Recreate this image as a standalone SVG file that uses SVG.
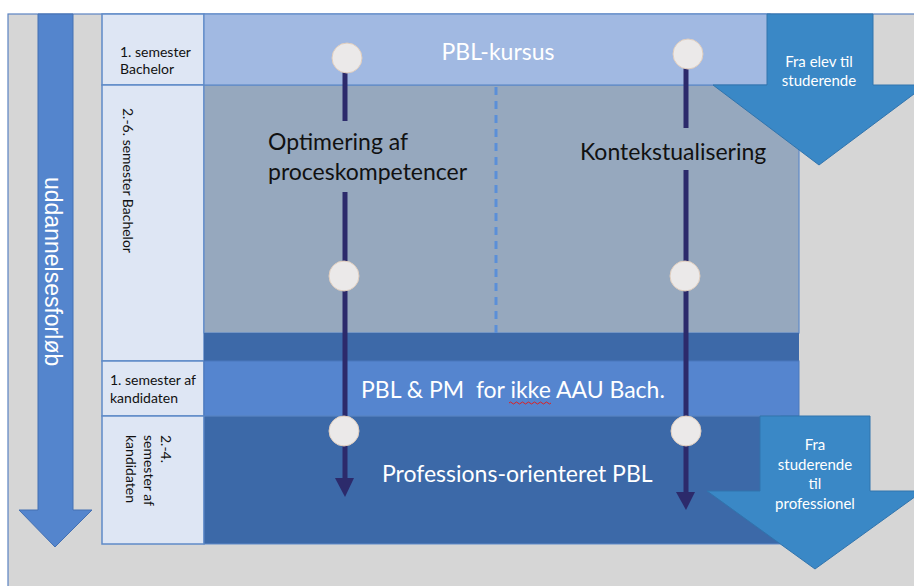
<svg xmlns="http://www.w3.org/2000/svg" width="914" height="586" viewBox="0 0 914 586">
<defs>
<style>
.lbl{font-family:Lato,"Open Sans","Liberation Sans",sans-serif;font-size:14px;fill:#111}
.big{font-family:Lato,"Open Sans","Liberation Sans",sans-serif;font-size:23px}
.wht{fill:#ffffff}
.blk{fill:#111111}
.arrtxt{font-family:Lato,"Open Sans","Liberation Sans",sans-serif;font-size:15px;fill:#ffffff;text-anchor:middle}
.col{fill:#dee6f4;stroke:#5f8ac8;stroke-width:1.5}
.line{stroke:#2c2a6b;stroke-width:5;fill:none}
.dot{fill:#ebe9e9;stroke:#e0cdbd;stroke-width:1}
.head{fill:#2c2a6b}
.bigarrow{fill:#3a88c6;stroke:#3174ad;stroke-width:1}
</style>
</defs>
<rect x="0" y="0" width="914" height="586" fill="#ffffff"/>
<rect id="frame" x="8" y="14" width="910" height="580" fill="#d6d6d6" stroke="#5b83c2" stroke-width="1.2"/>

<g id="timeline">
<path d="M38,14 H73 V510 H92 L55,547 L19,510 H38 Z" fill="#5485cd" stroke="#4470b2" stroke-width="1"/>
<text transform="translate(45,177) rotate(90)" font-family="'Liberation Sans',Arial,sans-serif" font-size="23" fill="#ffffff">uddannelsesforløb</text>
</g>

<g id="labels">
<rect class="col" x="102" y="14" width="102" height="71"/>
<rect class="col" x="102" y="85" width="102" height="276"/>
<rect class="col" x="102" y="361" width="102" height="55"/>
<rect class="col" x="102" y="416" width="102" height="128"/>
<text class="lbl" x="120" y="57">1. semester</text>
<text class="lbl" x="120" y="74">Bachelor</text>
<text class="lbl" transform="translate(123,108) rotate(90)">2.-6. semester Bachelor</text>
<text class="lbl" x="110" y="385">1. semester af</text>
<text class="lbl" x="110" y="403">kandidaten</text>
<text class="lbl" transform="translate(161,435) rotate(90)">2.-4.</text>
<text class="lbl" transform="translate(144,435) rotate(90)">semester af</text>
<text class="lbl" transform="translate(126,435) rotate(90)">kandidaten</text>
</g>

<g id="bachelor-area">
<rect x="204" y="85" width="595" height="248" fill="#96a8be" stroke="#5f8ac8" stroke-width="1.2"/>
<line x1="496" y1="87" x2="496" y2="333" stroke="#5b8fd8" stroke-width="3" stroke-dasharray="8,6"/>
</g>

<g id="pbl-kursus">
<rect x="204" y="14" width="566" height="71" fill="#a1b9e2" stroke="#5f8ac8" stroke-width="1.2"/>
<text class="big wht" x="498" y="60" text-anchor="middle">PBL-kursus</text>
</g>

<g id="band">
<rect x="204" y="333" width="595" height="28" fill="#3d69a8"/>
</g>

<g id="pbl-pm">
<rect x="204" y="361" width="595" height="55" fill="#5585cf" stroke="#4a78bd" stroke-width="1"/>
<text class="big wht" x="361" y="398" style="white-space:pre">PBL &amp; PM  for ikke AAU Bach.</text>
<path d="M509,403 q1.5,-2 3,0 t3,0 t3,0 t3,0 t3,0 t3,0 t3,0 t3,0 t3,0 t3,0 t3,0 t3,0 t3,0 t3,0" fill="none" stroke="#e02020" stroke-width="1"/>
</g>

<g id="professions">
<rect x="204" y="416" width="576" height="128" fill="#3c69a8" stroke="#5f8ac8" stroke-width="1"/>
<text class="big wht" x="382" y="482">Professions-orienteret PBL</text>
</g>

<g id="arrow-elev">
<path class="bigarrow" d="M767,14 H873 V85 H926 L819,165 L713,85 H767 Z"/>
<text class="arrtxt" x="819" y="67">Fra elev til</text>
<text class="arrtxt" x="819" y="86">studerende</text>
</g>

<g id="arrow-prof">
<path class="bigarrow" d="M760,416 H870 V491 H923 L815,569 L707,491 H760 Z"/>
<text class="arrtxt" x="815" y="450">Fra</text>
<text class="arrtxt" x="815" y="470">studerende</text>
<text class="arrtxt" x="815" y="489">til</text>
<text class="arrtxt" x="815" y="509">professionel</text>
</g>

<g id="connectors">
<line class="line" x1="345" y1="58" x2="345" y2="121"/>
<line class="line" x1="345" y1="192" x2="345" y2="480"/>
<polygon class="head" points="335,478 354,478 345,497"/>
<line class="line" x1="686" y1="54" x2="686" y2="128"/>
<line class="line" x1="686" y1="170" x2="686" y2="494"/>
<polygon class="head" points="676,492 695,492 686,510"/>
</g>

<g id="text-optimering">
<text class="big blk" x="268" y="150">Optimering af</text>
<text class="big blk" x="268" y="180">proceskompetencer</text>
</g>
<g id="text-kontekst">
<text class="big blk" x="580" y="160">Kontekstualisering</text>
</g>

<g id="dots">
<circle class="dot" cx="347" cy="58" r="15"/>
<circle class="dot" cx="344" cy="276" r="15"/>
<circle class="dot" cx="344" cy="431" r="15"/>
<circle class="dot" cx="688" cy="54" r="15"/>
<circle class="dot" cx="685" cy="276" r="15"/>
<circle class="dot" cx="686" cy="431" r="15"/>
</g>
</svg>
